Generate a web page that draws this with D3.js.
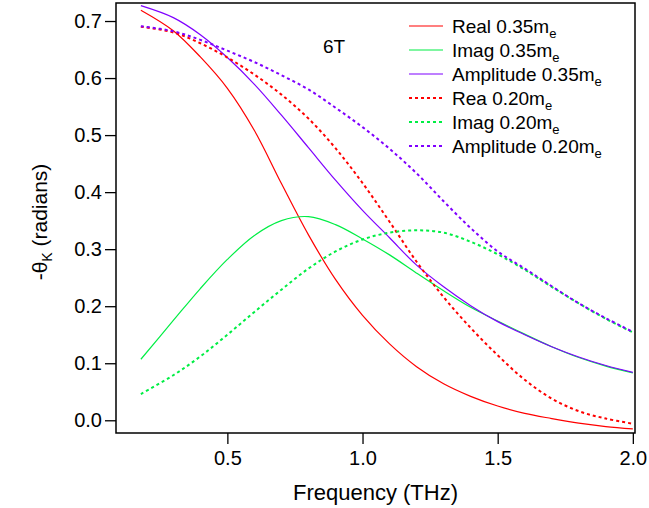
<!DOCTYPE html>
<html>
<head>
<meta charset="utf-8">
<script src="https://cdn.jsdelivr.net/npm/d3@7"></script>
<style>
  body { margin: 0; background: #fff; }
  svg { font-family: 'Liberation Sans', Arial, sans-serif; }
  .tick line { stroke: #000; stroke-width: 1.3; }
  .tick text { font-size: 20px; fill: #000; }
  .line-path { fill: none; }
</style>
</head>
<body>
<svg width="649" height="508"></svg>
<script>
// frequency grid (THz) and the six curves
const freq = [0.18, 0.3, 0.4, 0.5, 0.6, 0.7, 0.8, 0.9, 1.0, 1.1, 1.2, 1.3, 1.4, 1.5, 1.6, 1.7, 1.8, 1.9, 2.0];

const real35 = [0.719, 0.683, 0.637, 0.582, 0.508, 0.415, 0.325, 0.247, 0.184, 0.134, 0.094, 0.064, 0.042, 0.025, 0.012, 0.003, -0.005, -0.011, -0.015];
const imag35 = [0.107, 0.175, 0.231, 0.282, 0.324, 0.350, 0.357, 0.343, 0.318, 0.290, 0.258, 0.227, 0.198, 0.174, 0.151, 0.129, 0.110, 0.095, 0.083];
const amp35 = [0.727, 0.706, 0.676, 0.636, 0.589, 0.535, 0.478, 0.421, 0.368, 0.320, 0.272, 0.234, 0.201, 0.173, 0.150, 0.129, 0.111, 0.096, 0.084];
const real20 = [0.690, 0.680, 0.661, 0.636, 0.606, 0.571, 0.529, 0.477, 0.416, 0.348, 0.278, 0.216, 0.162, 0.114, 0.071, 0.038, 0.016, 0.003, -0.006];
const imag20 = [0.046, 0.079, 0.112, 0.150, 0.190, 0.229, 0.266, 0.296, 0.317, 0.329, 0.333, 0.329, 0.313, 0.291, 0.264, 0.234, 0.205, 0.178, 0.154];
const amp20 = [0.691, 0.682, 0.667, 0.648, 0.628, 0.605, 0.580, 0.548, 0.514, 0.476, 0.433, 0.384, 0.337, 0.296, 0.266, 0.235, 0.205, 0.179, 0.155];

const seriesNames = ['Real 0.35m', 'Imag 0.35m', 'Amplitude 0.35m', 'Rea 0.20m', 'Imag 0.20m', 'Amplitude 0.20m'];
const seriesValues = [real35, imag35, amp35, real20, imag20, amp20];

const xTicks = [0.5, 1.0, 1.5, 2.0];
const yTicks = [0.0, 0.1, 0.2, 0.3, 0.4, 0.5, 0.6, 0.7];

const colors = ['#ff0000', '#00ee44', '#7f00ff', '#ff0000', '#00ee44', '#7f00ff'];
const dotted = [false, false, false, true, true, true];

const svg = d3.select('svg');
const width = +svg.attr('width');
const height = +svg.attr('height');

const margin = { top: 3, right: 14, bottom: 75, left: 116 };
const innerWidth = width - margin.left - margin.right;
const innerHeight = height - margin.top - margin.bottom;

const xScale = d3.scaleLinear()
  .domain([0.088, 2.008])
  .range([0, innerWidth]);

const yScale = d3.scaleLinear()
  .domain([-0.0223, 0.7316])
  .range([innerHeight, 0]);

const g = svg.append('g')
  .attr('transform', `translate(${margin.left},${margin.top})`);

const xAxis = d3.axisBottom(xScale)
  .tickValues(xTicks)
  .tickFormat(d3.format('.1f'))
  .tickSize(11)
  .tickPadding(7);

const yAxis = d3.axisLeft(yScale)
  .tickValues(yTicks)
  .tickFormat(d3.format('.1f'))
  .tickSize(11)
  .tickPadding(3);

const xAxisG = g.append('g').call(xAxis)
  .attr('transform', `translate(0,${innerHeight})`);
xAxisG.select('.domain').remove();

const yAxisG = g.append('g').call(yAxis);
yAxisG.select('.domain').remove();

// curves
const lineGenerator = d3.line()
  .x((d, i) => xScale(freq[i]))
  .y(d => yScale(d))
  .curve(d3.curveCatmullRom.alpha(0.5));

g.append('defs').append('clipPath')
    .attr('id', 'plot-clip')
  .append('rect')
    .attr('width', innerWidth)
    .attr('height', innerHeight);

g.append('g')
    .attr('clip-path', 'url(#plot-clip)')
  .selectAll('.line-path').data(seriesValues)
  .enter().append('path')
    .attr('class', 'line-path')
    .attr('d', d => lineGenerator(d))
    .attr('stroke', (d, i) => colors[i])
    .attr('stroke-width', (d, i) => dotted[i] ? 2 : 1.2)
    .attr('stroke-dasharray', (d, i) => dotted[i] ? '3,3' : null);

// frame
g.append('rect')
    .attr('width', innerWidth)
    .attr('height', innerHeight)
    .attr('fill', 'none')
    .attr('stroke', '#000')
    .attr('stroke-width', 1.5);

// axis titles
g.append('text')
    .attr('x', innerWidth / 2)
    .attr('y', innerHeight + 67)
    .attr('text-anchor', 'middle')
    .attr('font-size', 22)
    .text('Frequency (THz)');

const yTitle = svg.append('text')
    .attr('transform', `translate(47,222) rotate(-90)`)
    .attr('text-anchor', 'middle')
    .attr('font-size', 21);
yTitle.append('tspan').text('-θ');
yTitle.append('tspan').attr('font-size', 14).attr('dy', 5).text('K');
yTitle.append('tspan').attr('dy', -5).text(' (radians)');

// field annotation
g.append('text')
    .attr('x', 207)
    .attr('y', 50)
    .attr('font-size', 19)
    .text('6T');

// legend
const legend = svg.append('g')
    .attr('transform', 'translate(409,26)');

const rows = legend.selectAll('.legend-row').data(seriesNames)
  .enter().append('g')
    .attr('class', 'legend-row')
    .attr('transform', (d, i) => `translate(0,${i * 24})`);

rows.append('line')
    .attr('x1', 0)
    .attr('x2', 34)
    .attr('stroke', (d, i) => colors[i])
    .attr('stroke-width', (d, i) => dotted[i] ? 2 : 1.2)
    .attr('stroke-dasharray', (d, i) => dotted[i] ? '3,3' : null);

const labels = rows.append('text')
    .attr('x', 43)
    .attr('y', 7)
    .attr('font-size', 19);
labels.append('tspan').text(d => d);
labels.append('tspan').attr('font-size', 13).attr('dy', 5).text('e');
</script>
</body>
</html>
